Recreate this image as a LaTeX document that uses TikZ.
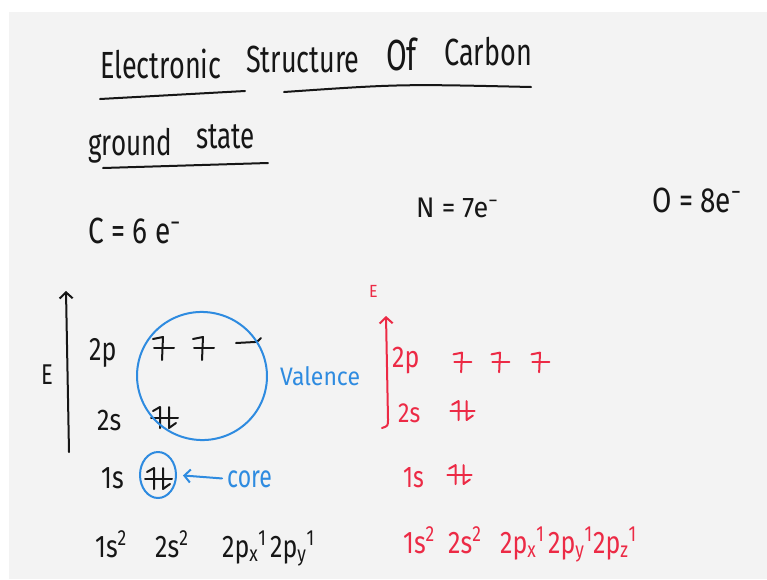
\documentclass[tikz,border=0pt]{standalone}
\usepackage{fontspec}
\setmainfont{Fira Sans}
\usepackage{graphicx}
\usetikzlibrary{arrows.meta,shapes.geometric}
\definecolor{ink}{HTML}{161616}
\definecolor{pen}{HTML}{2E8BE0}
\definecolor{redpen}{HTML}{EC2A45}
\definecolor{board}{HTML}{F3F3F3}
\newcommand{\hw}[3]{\fontsize{#1pt}{#1pt}\selectfont\scalebox{1}[#2]{#3}}
\begin{document}
\begin{tikzpicture}[x=1pt,y=-1pt, line cap=round, line join=round,
  txt/.style={anchor=base west, inner sep=0pt, text=ink},
  stroke/.style={line width=2pt, draw=ink},
  upe/.pic={\draw[line width=2pt] (-9,0) -- (11,0); \draw[line width=2pt] (-10,-9) -- (0,-11) -- (-1,12);},
  emptyo/.pic={\draw[line width=2pt] (-12,1) -- (7,0) to[out=0,in=220] (13,-4);},
  paire/.pic={\draw[line width=2pt] (-14,0) -- (13,0); \draw[line width=2pt] (-12,-7) -- (-5,-11) -- (-5,10); \draw[line width=2pt] (4,-11) -- (4,10) -- (11,5);},
  barb/.style={-{Straight Barb[length=6pt,width=13pt]}}
]
\fill[white] (0,0) rectangle (767,579);
\fill[board] (9,12) rectangle (767,579);
\useasboundingbox (0,0) rectangle (767,579);

% title
\node[txt] (t1) at (100,78) {\hw{27}{1.4}{Electronic}};
\node[txt] (t2) at (246,72) {\hw{27}{1.4}{Structure}};
\node[txt] (t3) at (386,70) {\hw{30}{1.45}{Of}};
\node[txt] (t4) at (444,65) {\hw{27}{1.4}{Carbon}};
\draw[stroke] (100,99) -- (245,91);
\draw[stroke] (284,92) .. controls (400,84) .. (531,87);

\node[txt] (g1) at (88,155) {\hw{26}{1.4}{ground}};
\node[txt] (g2) at (196,148) {\hw{26}{1.4}{state}};
\draw[stroke] (103,168) -- (268,163);

\node[txt] (cc) at (88,243) {\hw{28}{1.3}{C = 6 e\textsuperscript{−}}};
\node[txt] (nn) at (416,217) {\hw{27}{1.05}{N = 7e\textsuperscript{−}}};
\node[txt] (oo) at (652,212) {\hw{28}{1.25}{O = 8e\textsuperscript{−}}};

% left diagram
\coordinate (eb) at (69,452);
\coordinate (et) at (66,291);
\draw[stroke, barb] (eb) -- (et);
\node[txt] (E1) at (41,384) {\hw{22}{1.3}{E}};
\node[txt] (l2p) at (89,360) {\hw{25}{1.3}{2p}};
\node[txt] (l2s) at (97,430) {\hw{25}{1.2}{2s}};
\node[txt] (l1s) at (101,488) {\hw{25}{1.25}{1s}};
\pic[ink] at (163,348) {upe};
\pic[ink] at (203,348) {upe};
\pic[ink] at (248,342) {emptyo};
\pic[ink] at (165,418) {paire};
\pic[ink] at (159,479) {paire};
\node[ellipse, draw=pen, line width=2pt, minimum width=130, minimum height=128, rotate=-10] (val) at (202,376) {};
\node[ellipse, draw=pen, line width=2pt, minimum width=36, minimum height=46, inner sep=0pt] (c1s) at (158,475) {};
\node[txt, text=pen] (valtxt) at (280,385) {\hw{23}{1.1}{Valence}};
\node[txt, text=pen] (core) at (227,487) {\hw{23}{1.35}{core}};
\draw[pen, line width=2pt, barb, shorten <=5pt, shorten >=6pt] (core.west) -- (c1s.east);

\node[txt] (k1) at (95,557) {\hw{25}{1.25}{1s\textsuperscript{2}}};
\node[txt] (k2) at (155,557) {\hw{25}{1.25}{2s\textsuperscript{2}}};
\node[txt] (k3) at (222,557) {\hw{25}{1.25}{2p\textsubscript{x}\textsuperscript{1}}};
\node[txt] (k4) at (270,557) {\hw{25}{1.25}{2p\textsubscript{y}\textsuperscript{1}}};

% right red diagram
\node[txt, text=redpen] (E2) at (369,297) {\hw{16}{1.1}{E}};
\coordinate (rb) at (382,428);
\coordinate (rm) at (388,419);
\coordinate (rt) at (386,316);
\draw[redpen, line width=2pt, barb] (rb) .. controls (388,426) .. (rm) -- (rt);
\node[txt, text=redpen] (r2p) at (392,367) {\hw{25}{1.2}{2p}};
\node[txt, text=redpen] (r2s) at (398,422) {\hw{23}{1.2}{2s}};
\node[txt, text=redpen] (r1s) at (403,487) {\hw{23}{1.3}{1s}};
\pic[redpen, scale=0.85] at (462,362) {upe};
\pic[redpen, scale=0.85] at (500,362) {upe};
\pic[redpen, scale=0.85] at (540,362) {upe};
\pic[redpen, scale=0.9] at (463,411) {paire};
\pic[redpen, scale=0.9] at (460,475) {paire};

\node[txt, text=redpen] (q1) at (403,553) {\hw{25}{1.25}{1s\textsuperscript{2}}};
\node[txt, text=redpen] (q2) at (448,553) {\hw{25}{1.25}{2s\textsuperscript{2}}};
\node[txt, text=redpen] (q3) at (500,553) {\hw{25}{1.25}{2p\textsubscript{x}\textsuperscript{1}}};
\node[txt, text=redpen] (q4) at (548,553) {\hw{25}{1.25}{2p\textsubscript{y}\textsuperscript{1}}};
\node[txt, text=redpen] (q5) at (593,553) {\hw{25}{1.25}{2p\textsubscript{z}\textsuperscript{1}}};
\end{tikzpicture}
\end{document}
